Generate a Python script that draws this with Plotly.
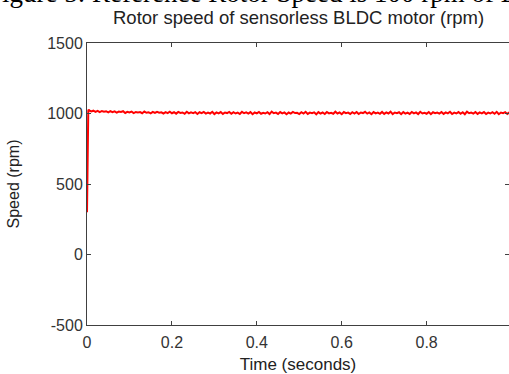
import plotly.graph_objects as go

# Initial transient (time in s, speed in rpm)
transient_time = [0.0, 0.0005, 0.001, 0.0015, 0.002, 0.003, 0.004]
transient_speed = [300, 560, 790, 830, 960, 1020, 1028]

# Steady part sampled every 5 ms from 0.005 s
steady_start = 0.005
steady_step = 0.005
steady_speed = [
    1022, 1015, 1020, 1012, 1019, 1010, 1018, 1013, 1016, 1008,
    1017, 1009, 1015, 1006, 1014, 1011, 1016, 1004, 1012, 1007,
    1013, 1003, 1011, 1008, 1010, 1002, 1014, 1005, 1009, 1001,
    1011, 1004, 1012, 1006, 1008, 1000, 1010, 1003, 1013, 1002,
    1009, 999, 1011, 1004, 1007, 998, 1012, 1001, 1008, 1003,
    1010, 997, 1009, 1002, 1011, 999, 1006, 1000, 1012, 996,
    1008, 1001, 1010, 997, 1007, 1003, 1011, 998, 1009, 1000,
    1006, 996, 1012, 1002, 1008, 999, 1010, 995, 1007, 1001,
    1011, 998, 1005, 1000, 1009, 996, 1013, 1002, 1006, 997,
    1010, 1001, 1008, 995, 1007, 999, 1011, 1003, 1005, 996,
    1009, 1000, 1012, 997, 1006, 1002, 1008, 994, 1010, 999,
    1007, 996, 1011, 1001, 1005, 998, 1013, 1000, 1008, 995,
    1010, 1002, 1006, 997, 1009, 1000, 1011, 996, 1007, 1003,
    1012, 999, 1008, 995, 1010, 1001, 1006, 998, 1011, 997,
    1008, 1000, 1013, 996, 1007, 1002, 1009, 995, 1010, 999,
    1006, 997, 1011, 1001, 1008, 996, 1012, 1000, 1005, 998,
    1010, 995, 1009, 1002, 1007, 999, 1011, 997, 1008, 1001,
    1012, 996, 1006, 1000, 1010, 998, 1009, 995, 1013, 1002,
    1007, 999, 1011, 997, 1008, 1001, 1010, 996, 1006, 1000,
    1009, 998, 1012, 995, 1007, 1002, 1010, 997, 1008,
]
steady_time = [round(steady_start + k * steady_step, 4) for k in range(len(steady_speed))]

time_s = transient_time + steady_time
speed_rpm = transient_speed + steady_speed

x_ticks = [0, 0.2, 0.4, 0.6, 0.8, 1.0]
x_tick_labels = ["0", "0.2", "0.4", "0.6", "0.8", "1"]
y_ticks = [-500, 0, 500, 1000, 1500]
y_tick_labels = ["-500", "0", "500", "1000", "1500"]

W, H = 509, 374
ML, MT, MB = 87, 43, 49
plot_w = W - ML
plot_h = H - MT - MB

fig = go.Figure()
fig.add_trace(go.Scatter(
    x=time_s, y=speed_rpm, mode="lines",
    line=dict(color="#ff0000", width=2),
    showlegend=False, hoverinfo="skip",
))

sans = "Liberation Sans, Arial, sans-serif"
axis_font = dict(family=sans, size=16, color="#333333")

fig.update_layout(
    width=W, height=H,
    margin=dict(l=ML, r=0, t=MT, b=MB, autoexpand=False),
    paper_bgcolor="white", plot_bgcolor="white",
    xaxis=dict(
        range=[0, 0.994], tickvals=x_ticks, ticktext=x_tick_labels,
        ticks="inside", ticklen=4, tickcolor="#404040",
        showline=True, linecolor="#404040", linewidth=1, mirror="ticks",
        showgrid=False, zeroline=False, tickfont=axis_font, automargin=False,
        ticklabelstandoff=3,
        title=dict(text="Time (seconds)", font=dict(family=sans, size=17, color="#222222"), standoff=9),
    ),
    yaxis=dict(
        range=[-500, 1500], tickvals=y_ticks, ticktext=y_tick_labels,
        ticks="inside", ticklen=4, tickcolor="#404040",
        showline=True, linecolor="#404040", linewidth=1, mirror="ticks",
        showgrid=False, zeroline=False, tickfont=axis_font, automargin=False,
        title=dict(text="Speed (rpm)", font=dict(family=sans, size=16, color="#222222"), standoff=23),
    ),
)

fig.add_annotation(
    text="Rotor speed of sensorless BLDC motor (rpm)",
    xref="paper", yref="paper", x=(298 - ML) / plot_w, y=(H - MB - 18) / plot_h,
    xanchor="center", yanchor="middle", showarrow=False,
    font=dict(family=sans, size=18.5, color="#222222"),
)
fig.add_annotation(
    text="Figure 5: Reference Rotor Speed is 100 rpm of BLDC Motor",
    xref="paper", yref="paper", x=(-15 - ML) / plot_w, y=(H - MB + 7) / plot_h,
    xanchor="left", yanchor="middle", showarrow=False,
    font=dict(family="Liberation Serif, Times New Roman, serif", size=27, color="#000000"),
)

fig.write_html(
    "out.html",
    config={"displayModeBar": False},
    post_script="document.body.style.margin='0px';document.body.style.overflow='hidden';",
)
